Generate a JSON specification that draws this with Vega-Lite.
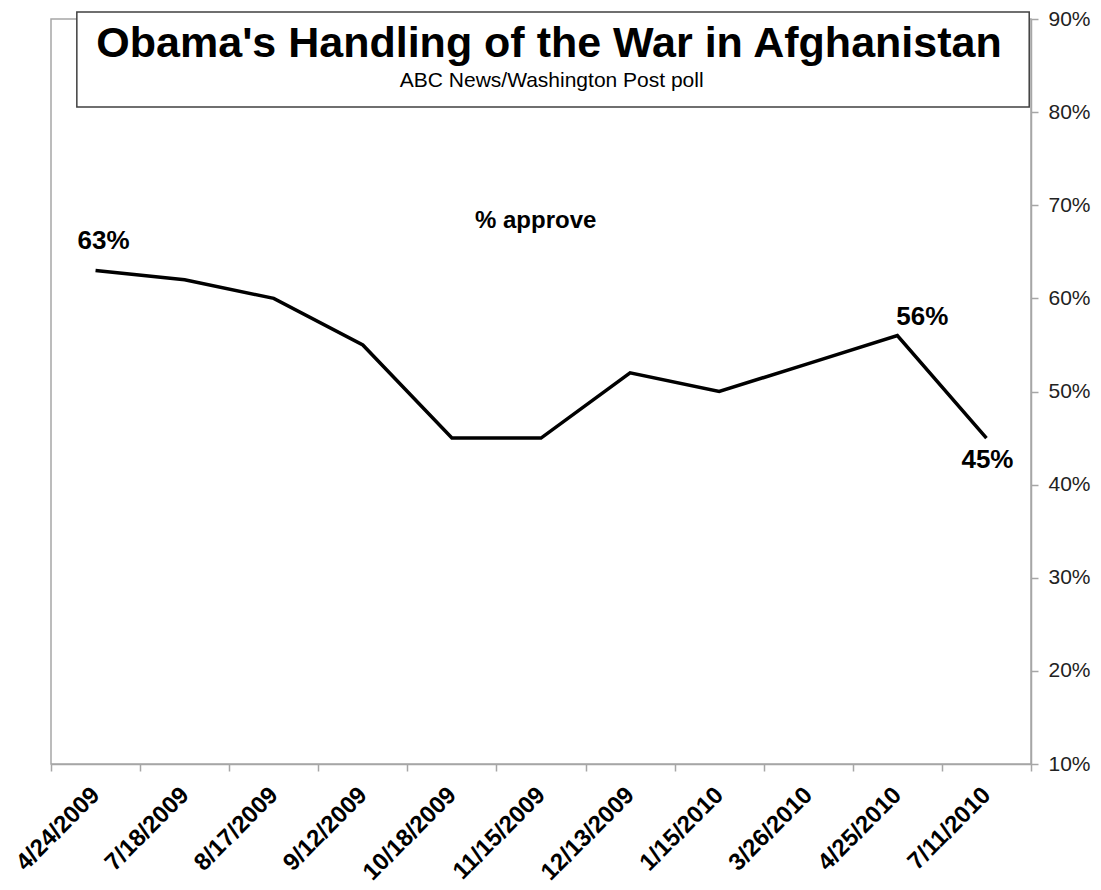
{
  "$schema": "https://vega.github.io/schema/vega-lite/v6.json",
  "autosize": "none",
  "width": 980,
  "height": 745,
  "padding": {"left": 51, "top": 19, "right": 70, "bottom": 126},
  "background": "white",
  "config": {
    "font": "Liberation Sans",
    "view": {"stroke": "#a6a6a6", "strokeWidth": 1.5}
  },
  "data": {
    "values": [
      {"date": "4/24/2009", "approve": 63},
      {"date": "7/18/2009", "approve": 62},
      {"date": "8/17/2009", "approve": 60},
      {"date": "9/12/2009", "approve": 55},
      {"date": "10/18/2009", "approve": 45},
      {"date": "11/15/2009", "approve": 45},
      {"date": "12/13/2009", "approve": 52},
      {"date": "1/15/2010", "approve": 50},
      {"date": "3/26/2010", "approve": 53},
      {"date": "4/25/2010", "approve": 56},
      {"date": "7/11/2010", "approve": 45}
    ]
  },
  "encoding": {
    "x": {
      "field": "date",
      "type": "ordinal",
      "sort": null,
      "scale": {"type": "band", "paddingInner": 0, "paddingOuter": 0},
      "axis": {
        "title": null,
        "tickBand": "extent",
        "labelAngle": -45,
        "labelAlign": "right",
        "labelBaseline": "middle",
        "labelFontSize": 24,
        "labelFontWeight": "bold",
        "labelColor": "black",
        "labelPadding": 20,
        "domainColor": "#a6a6a6",
        "domainWidth": 1.5,
        "tickColor": "#a6a6a6",
        "tickWidth": 1.5,
        "tickSize": 7
      }
    },
    "y": {
      "field": "approve",
      "type": "quantitative",
      "scale": {"domain": [10, 90], "nice": false, "zero": false},
      "axis": {
        "orient": "right",
        "title": null,
        "values": [10, 20, 30, 40, 50, 60, 70, 80, 90],
        "labelExpr": "datum.value + '%'",
        "labelFontSize": 21,
        "labelColor": "#222222",
        "labelPadding": 10,
        "grid": false,
        "domainColor": "#a6a6a6",
        "domainWidth": 1.5,
        "tickColor": "#a6a6a6",
        "tickWidth": 1.5,
        "tickSize": 7
      }
    }
  },
  "layer": [
    {
      "mark": {"type": "line", "color": "black", "strokeWidth": 3.5, "strokeJoin": "miter"}
    },
    {
      "transform": [{"filter": "datum.date == '4/24/2009'"}],
      "mark": {"type": "text", "fontSize": 26, "fontWeight": "bold", "color": "black", "baseline": "alphabetic", "dx": 8, "dy": -21, "text": {"expr": "datum.approve + '%'"}}
    },
    {
      "transform": [{"filter": "datum.date == '4/25/2010'"}],
      "mark": {"type": "text", "fontSize": 26, "fontWeight": "bold", "color": "black", "baseline": "alphabetic", "dx": 25, "dy": -11, "text": {"expr": "datum.approve + '%'"}}
    },
    {
      "transform": [{"filter": "datum.date == '7/11/2010'"}],
      "mark": {"type": "text", "fontSize": 26, "fontWeight": "bold", "color": "black", "baseline": "alphabetic", "dx": 1, "dy": 30, "text": {"expr": "datum.approve + '%'"}}
    },
    {
      "transform": [{"filter": "datum.date == '4/24/2009'"}],
      "mark": {"type": "rect", "fill": "white", "stroke": "#404040", "strokeWidth": 1.5},
      "encoding": {
        "x": {"datum": "4/24/2009", "bandPosition": 0.29},
        "x2": {"datum": "7/11/2010", "bandPosition": 0.98},
        "y": {"datum": 90.75},
        "y2": {"datum": 80.55}
      }
    },
    {
      "transform": [{"filter": "datum.date == '4/24/2009'"}],
      "mark": {"type": "text", "fontSize": 43, "fontWeight": "bold", "color": "black", "baseline": "alphabetic", "text": "Obama's Handling of the War in Afghanistan"},
      "encoding": {
        "x": {"datum": "11/15/2009", "bandPosition": 0.59},
        "y": {"datum": 85.92}
      }
    },
    {
      "transform": [{"filter": "datum.date == '4/24/2009'"}],
      "mark": {"type": "text", "fontSize": 21, "color": "black", "baseline": "alphabetic", "text": "ABC News/Washington Post poll"},
      "encoding": {
        "x": {"datum": "11/15/2009", "bandPosition": 0.62},
        "y": {"datum": 82.7}
      }
    },
    {
      "transform": [{"filter": "datum.date == '4/24/2009'"}],
      "mark": {"type": "text", "fontSize": 24, "fontWeight": "bold", "color": "black", "baseline": "alphabetic", "text": "% approve"},
      "encoding": {
        "x": {"datum": "11/15/2009", "bandPosition": 0.44},
        "y": {"datum": 67.55}
      }
    }
  ]
}
